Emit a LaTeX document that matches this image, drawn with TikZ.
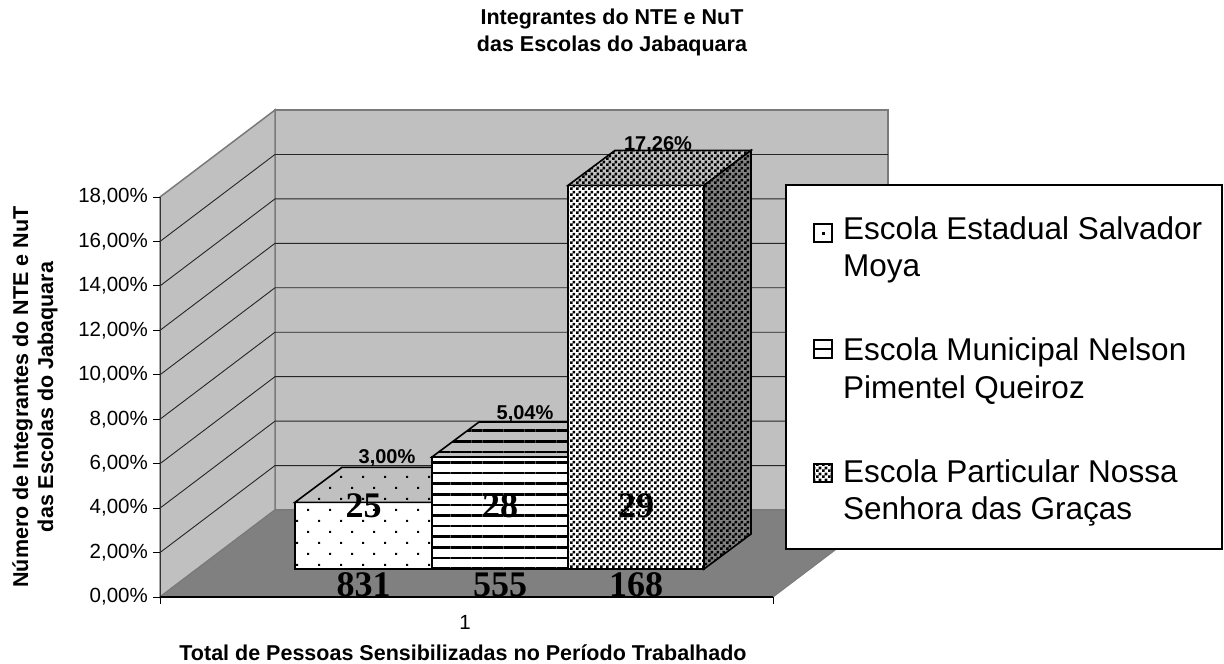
\documentclass[tikz,border=0pt]{standalone}
\usepackage{fontspec}
\setmainfont{Liberation Sans}
\newfontfamily\numfont{Liberation Serif}
\usetikzlibrary{patterns.meta}

\definecolor{wallgray}{HTML}{C0C0C0}
\definecolor{floorgray}{HTML}{808080}
\definecolor{edgegray}{HTML}{7A7A7A}

\pgfdeclarepattern{
  name=finecheck,
  type=uncolored,
  bottom left={\pgfpointorigin},
  top right={\pgfpoint{6pt}{6pt}},
  tile size={\pgfpoint{6pt}{6pt}},
  code={
    \pgfpathrectangle{\pgfpointorigin}{\pgfpoint{3pt}{3pt}}
    \pgfpathrectangle{\pgfpoint{3pt}{3pt}}{\pgfpoint{3pt}{3pt}}
    \pgfusepath{fill}
  }
}

\tikzset{
  wall/.style={fill=wallgray, draw=edgegray, line width=1.5pt},
  floor/.style={fill=floorgray, draw=edgegray, line width=1pt},
  gridline/.style={line width=0.9pt, black!85},
  barface/.style={draw=black, line width=1.6pt},
  dotfill/.style={pattern={Dots[radius=1.4pt,distance=15.56pt,angle=45]}},
  linefill/.style={pattern={Lines[angle=0,distance=10.6pt,line width=2.6pt]}},
  checkfill/.style={pattern=finecheck},
  ticklabel/.style={anchor=east, inner sep=0pt, font=\fontsize{20.5}{24}\selectfont},
  pctlabel/.style={inner sep=0pt, font=\bfseries\fontsize{20}{24}\selectfont},
  numlabel/.style={inner sep=0pt, font=\numfont\bfseries\fontsize{36}{40}\selectfont},
  legendtext/.style={anchor=base west, inner sep=0pt, font=\fontsize{31.5}{36}\selectfont},
  titletext/.style={anchor=base, inner sep=0pt, font=\bfseries\fontsize{21.5}{25}\selectfont}
}

\begin{document}
\begin{tikzpicture}[x=1pt,y=-1pt]
\useasboundingbox (0,0) rectangle (1224,664);

% walls and floor
\draw[wall] (275,110) rectangle (888,510);
\draw[wall] (160,197) -- (275,110) -- (275,510) -- (160,597) -- cycle;
\draw[floor] (160,597) -- (275,510) -- (888,510) -- (773,597) -- cycle;
\foreach \p in {2,4,...,16}
  \draw[gridline] (160,{597-\p*22.222}) -- ++(115,-87) -- ++(613,0);

% axes
\draw[line width=1pt, black!80] (160,197) -- (160,597);
\draw[line width=1.2pt] (160,597) -- (773,597);
\draw[line width=1pt] (160,597) -- (160,604);
\draw[line width=1pt] (773,597) -- (773,604);
\foreach \p in {0,2,...,18} {
  \draw[line width=1pt] (153,{597-\p*22.222}) -- (160,{597-\p*22.222});
  \node[ticklabel] (tick\p) at (148,{597-\p*22.222}) {\p,00\%};
}

% bar 1
\draw[barface, preaction={fill=white}, dotfill] (295,569) rectangle (432,502.3);
\draw[barface, preaction={fill=wallgray}, dotfill] (295,502.3) -- (342,467.3) -- (479,467.3) -- (432,502.3) -- cycle;
% bar 2
\draw[barface, preaction={fill=white}, linefill] (432,569) rectangle (568,457);
\draw[barface, preaction={fill=wallgray}, linefill] (432,457) -- (479,422) -- (615,422) -- (568,457) -- cycle;
% bar 3
\draw[barface, preaction={fill=white}, checkfill] (568,569) rectangle (704,185.4);
\draw[barface, preaction={fill=wallgray}, checkfill] (568,185.4) -- (615,150.4) -- (751,150.4) -- (704,185.4) -- cycle;
\draw[barface, preaction={fill=floorgray}, checkfill] (704,569) -- (751,534) -- (751,150.4) -- (704,185.4) -- cycle;

% labels on bars
\node[pctlabel] (pct1) at (387,458) {3,00\%};
\node[pctlabel] (pct2) at (525,414) {5,04\%};
\node[pctlabel] (pct3) at (658,145) {17,26\%};
\node[numlabel] (val1) at (363.5,506) {25};
\node[numlabel] (val2) at (500,506) {28};
\node[numlabel] (val3) at (636,506) {29};
\node[numlabel] (tot1) at (363.5,585) {831};
\node[numlabel] (tot2) at (500,585) {555};
\node[numlabel] (tot3) at (636,585) {168};

% legend
\draw[line width=1.2pt, fill=white] (786,185) rectangle (1222,549);
\draw[line width=1.5pt] (814,224) rectangle (832,242);
\fill (821.5,231.5) rectangle (824.5,234.5);
\draw[line width=1.5pt] (814,340) rectangle (832,358);
\draw[line width=1.5pt] (814,349) -- (832,349);
\draw[line width=1.5pt, preaction={fill=white}, checkfill] (814,464) rectangle (832,482);
\node[legendtext] (leg1a) at (843,239) {Escola Estadual Salvador};
\node[legendtext] (leg1b) at (843,276) {Moya};
\node[legendtext] (leg2a) at (843,360) {Escola Municipal Nelson};
\node[legendtext] (leg2b) at (843,398) {Pimentel Queiroz};
\node[legendtext] (leg3a) at (843,482) {Escola Particular Nossa};
\node[legendtext] (leg3b) at (843,519) {Senhora das Graças};

% titles
\node[titletext] (title1) at (612,24) {Integrantes do NTE e NuT};
\node[titletext] (title2) at (612,51) {das Escolas do Jabaquara};
\node[font=\fontsize{20.5}{24}\selectfont] (cat) at (465,622) {1};
\node[titletext] (xtitle) at (463,660) {Total de Pessoas Sensibilizadas no Período Trabalhado};
\node[titletext, rotate=90] (ytitle1) at (28,397) {Número de Integrantes do NTE e NuT};
\node[titletext, rotate=90] (ytitle2) at (53,397) {das Escolas do Jabaquara};
\end{tikzpicture}
\end{document}
